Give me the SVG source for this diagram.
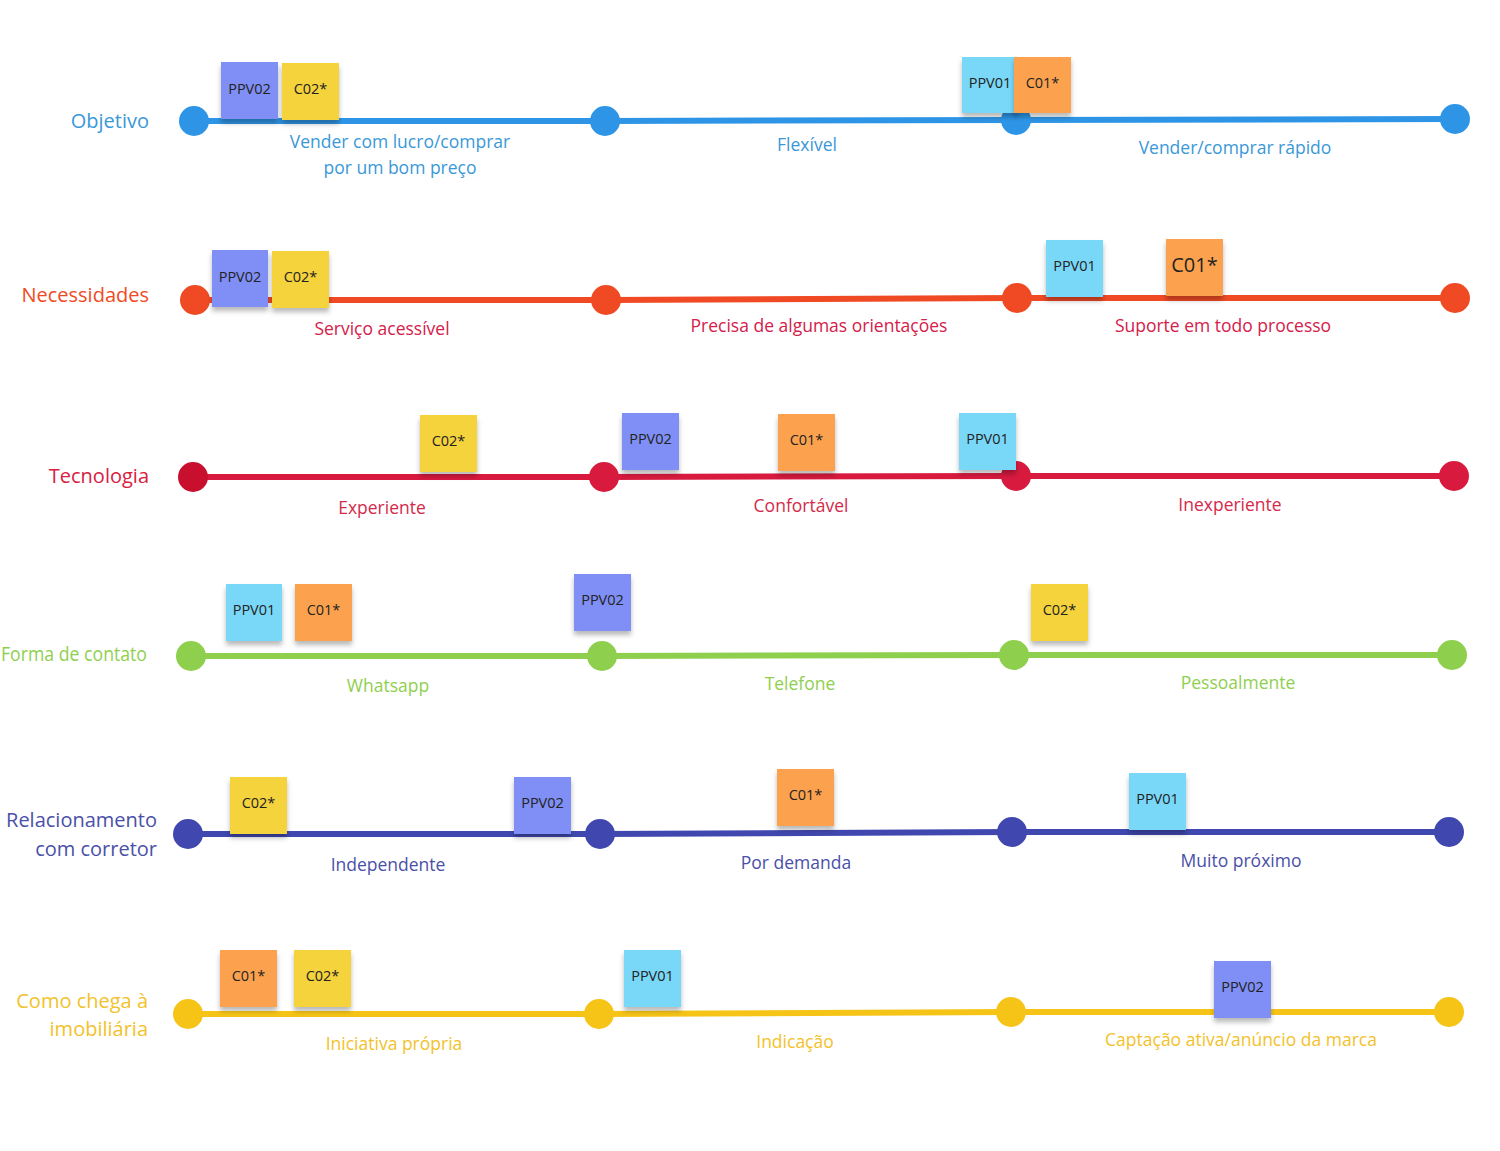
<svg xmlns="http://www.w3.org/2000/svg" width="1500" height="1151" viewBox="0 0 1500 1151">
<defs>
<filter id="sh" x="-20%" y="-20%" width="140%" height="150%">
<feDropShadow dx="0" dy="4" stdDeviation="2.5" flood-color="#000" flood-opacity="0.28"/>
</filter>
</defs>
<style>
text{font-family:"Open Sans","Noto Sans","Liberation Sans",sans-serif}
.rl{font-size:20px;text-anchor:end}
.sl{font-size:17.5px;text-anchor:middle}
.st{font-size:14.5px;text-anchor:middle;fill:#222}
.big{font-size:20px}
.ln{stroke-width:6;fill:none}
.pv2{fill:#7f8ff5}
.pv1{fill:#79d8f8}
.c1{fill:#fca24f}
.c2{fill:#f5d33c}
.sk{filter:url(#sh)}
</style>
<rect width="1500" height="1151" fill="#fff"/>
<g id="connectors">
<line class="ln" stroke="#2e95e6" x1="194" y1="121" x2="605" y2="121"/>
<line class="ln" stroke="#2e95e6" x1="605" y1="121" x2="1016" y2="120"/>
<line class="ln" stroke="#2e95e6" x1="1016" y1="120" x2="1455" y2="119"/>
<line class="ln" stroke="#f04a24" x1="195" y1="300" x2="606" y2="300"/>
<line class="ln" stroke="#f04a24" x1="606" y1="300" x2="1017" y2="298"/>
<line class="ln" stroke="#f04a24" x1="1017" y1="298" x2="1455" y2="298"/>
<line class="ln" stroke="#d81a3f" x1="193" y1="477" x2="604" y2="477"/>
<line class="ln" stroke="#d81a3f" x1="604" y1="477" x2="1016" y2="476"/>
<line class="ln" stroke="#d81a3f" x1="1016" y1="476" x2="1454" y2="476"/>
<line class="ln" stroke="#8ed04e" x1="191" y1="656" x2="602" y2="656"/>
<line class="ln" stroke="#8ed04e" x1="602" y1="656" x2="1014" y2="655"/>
<line class="ln" stroke="#8ed04e" x1="1014" y1="655" x2="1452" y2="655"/>
<line class="ln" stroke="#4048b0" x1="188" y1="834" x2="600" y2="834"/>
<line class="ln" stroke="#4048b0" x1="600" y1="834" x2="1012" y2="832"/>
<line class="ln" stroke="#4048b0" x1="1012" y1="832" x2="1449" y2="832"/>
<line class="ln" stroke="#f6c417" x1="188" y1="1014" x2="599" y2="1014"/>
<line class="ln" stroke="#f6c417" x1="599" y1="1014" x2="1011" y2="1012"/>
<line class="ln" stroke="#f6c417" x1="1011" y1="1012" x2="1449" y2="1012"/>
</g>

<g id="row-objetivo">
<text class="rl" x="149" y="128" fill="#3a98d8">Objetivo</text>
<g fill="#2e95e6"><circle cx="194" cy="121" r="15"/><circle cx="605" cy="121" r="15"/><circle cx="1016" cy="120" r="15"/><circle cx="1455" cy="119" r="15"/></g>
<g fill="#3a98d8">
<text class="sl" x="400" y="148">Vender com lucro/comprar</text>
<text class="sl" x="400" y="174">por um bom preço</text>
<text class="sl" x="807" y="151">Flexível</text>
<text class="sl" x="1235" y="154">Vender/comprar rápido</text>
</g>
<g id="s1a" class="sk"><rect class="pv2" x="221" y="62" width="57" height="57"/></g><text class="st" x="249.5" y="94">PPV02</text>
<g id="s1b" class="sk"><rect class="c2" x="282" y="63" width="57" height="57"/></g><text class="st" x="310.5" y="94">C02*</text>
<g id="s1c" class="sk"><rect class="pv1" x="962" y="57" width="56" height="56"/></g><text class="st" x="990" y="88">PPV01</text>
<g id="s1d" class="sk"><rect class="c1" x="1014" y="57" width="57" height="56"/></g><text class="st" x="1042.5" y="88">C01*</text>
</g>

<g id="row-necessidades">
<text class="rl" x="149" y="302" fill="#f04a24">Necessidades</text>
<g fill="#f04a24"><circle cx="195" cy="300" r="15"/><circle cx="606" cy="300" r="15"/><circle cx="1017" cy="298" r="15"/><circle cx="1455" cy="298" r="15"/></g>
<g fill="#d4204a">
<text class="sl" x="382" y="335">Serviço acessível</text>
<text class="sl" x="819" y="332">Precisa de algumas orientações</text>
<text class="sl" x="1223" y="332">Suporte em todo processo</text>
</g>
<g id="s2a" class="sk"><rect class="pv2" x="212" y="250" width="56" height="57"/></g><text class="st" x="240" y="282">PPV02</text>
<g id="s2b" class="sk"><rect class="c2" x="272" y="251" width="57" height="57"/></g><text class="st" x="300.5" y="282">C02*</text>
<g id="s2c" class="sk"><rect class="pv1" x="1046" y="240" width="57" height="57"/></g><text class="st" x="1074.5" y="271">PPV01</text>
<g id="s2d" class="sk"><rect class="c1" x="1166" y="239" width="57" height="57"/></g><text class="st big" x="1194.5" y="272">C01*</text>
</g>

<g id="row-tecnologia">
<text class="rl" x="149" y="483" fill="#d8203f">Tecnologia</text>
<g fill="#d81a3f"><circle cx="193" cy="477" r="15" fill="#c8102e"/><circle cx="604" cy="477" r="15"/><circle cx="1016" cy="476" r="15"/><circle cx="1454" cy="476" r="15"/></g>
<g fill="#d42a4a">
<text class="sl" x="382" y="514">Experiente</text>
<text class="sl" x="801" y="512">Confortável</text>
<text class="sl" x="1230" y="511">Inexperiente</text>
</g>
<g id="s3a" class="sk"><rect class="c2" x="420" y="415" width="57" height="57"/></g><text class="st" x="448.5" y="446">C02*</text>
<g id="s3b" class="sk"><rect class="pv2" x="622" y="413" width="57" height="57"/></g><text class="st" x="650.5" y="444">PPV02</text>
<g id="s3c" class="sk"><rect class="c1" x="778" y="414" width="57" height="57"/></g><text class="st" x="806.5" y="445">C01*</text>
<g id="s3d" class="sk"><rect class="pv1" x="959" y="413" width="57" height="57"/></g><text class="st" x="987.5" y="444">PPV01</text>
</g>

<g id="row-contato">
<text x="1" y="661" font-size="20" textLength="146" lengthAdjust="spacingAndGlyphs" fill="#8fcf4f">Forma de contato</text>
<g fill="#8ed04e"><circle cx="191" cy="656" r="15"/><circle cx="602" cy="656" r="15"/><circle cx="1014" cy="655" r="15"/><circle cx="1452" cy="655" r="15"/></g>
<g fill="#8fcf4f">
<text class="sl" x="388" y="692">Whatsapp</text>
<text class="sl" x="800" y="690">Telefone</text>
<text class="sl" x="1238" y="689">Pessoalmente</text>
</g>
<g id="s4a" class="sk"><rect class="pv1" x="226" y="584" width="56" height="57"/></g><text class="st" x="254" y="615">PPV01</text>
<g id="s4b" class="sk"><rect class="c1" x="295" y="584" width="57" height="57"/></g><text class="st" x="323.5" y="615">C01*</text>
<g id="s4c" class="sk"><rect class="pv2" x="574" y="574" width="57" height="57"/></g><text class="st" x="602.5" y="605">PPV02</text>
<g id="s4d" class="sk"><rect class="c2" x="1031" y="584" width="57" height="57"/></g><text class="st" x="1059.5" y="615">C02*</text>
</g>

<g id="row-relacionamento">
<text class="rl" x="157" y="827" fill="#4a50a8">Relacionamento</text>
<text class="rl" x="157" y="856" fill="#4a50a8">com corretor</text>
<g fill="#4048b0"><circle cx="188" cy="834" r="15"/><circle cx="600" cy="834" r="15"/><circle cx="1012" cy="832" r="15"/><circle cx="1449" cy="832" r="15"/></g>
<g fill="#4a50a8">
<text class="sl" x="388" y="871">Independente</text>
<text class="sl" x="796" y="869">Por demanda</text>
<text class="sl" x="1241" y="867">Muito próximo</text>
</g>
<g id="s5a" class="sk"><rect class="c2" x="230" y="777" width="57" height="57"/></g><text class="st" x="258.5" y="808">C02*</text>
<g id="s5b" class="sk"><rect class="pv2" x="514" y="777" width="57" height="57"/></g><text class="st" x="542.5" y="808">PPV02</text>
<g id="s5c" class="sk"><rect class="c1" x="777" y="769" width="57" height="57"/></g><text class="st" x="805.5" y="800">C01*</text>
<g id="s5d" class="sk"><rect class="pv1" x="1129" y="773" width="57" height="57"/></g><text class="st" x="1157.5" y="804">PPV01</text>
</g>

<g id="row-chegada">
<text class="rl" x="148" y="1008" fill="#f2c22a">Como chega à</text>
<text class="rl" x="148" y="1036" fill="#f2c22a">imobiliária</text>
<g fill="#f6c417"><circle cx="188" cy="1014" r="15"/><circle cx="599" cy="1014" r="15"/><circle cx="1011" cy="1012" r="15"/><circle cx="1449" cy="1012" r="15"/></g>
<g fill="#f2c22a">
<text class="sl" x="394" y="1050">Iniciativa própria</text>
<text class="sl" x="795" y="1048">Indicação</text>
<text class="sl" x="1241" y="1046">Captação ativa/anúncio da marca</text>
</g>
<g id="s6a" class="sk"><rect class="c1" x="220" y="950" width="57" height="57"/></g><text class="st" x="248.5" y="981">C01*</text>
<g id="s6b" class="sk"><rect class="c2" x="294" y="950" width="57" height="57"/></g><text class="st" x="322.5" y="981">C02*</text>
<g id="s6c" class="sk"><rect class="pv1" x="624" y="950" width="57" height="57"/></g><text class="st" x="652.5" y="981">PPV01</text>
<g id="s6d" class="sk"><rect class="pv2" x="1214" y="961" width="57" height="57"/></g><text class="st" x="1242.5" y="992">PPV02</text>
</g>
</svg>
